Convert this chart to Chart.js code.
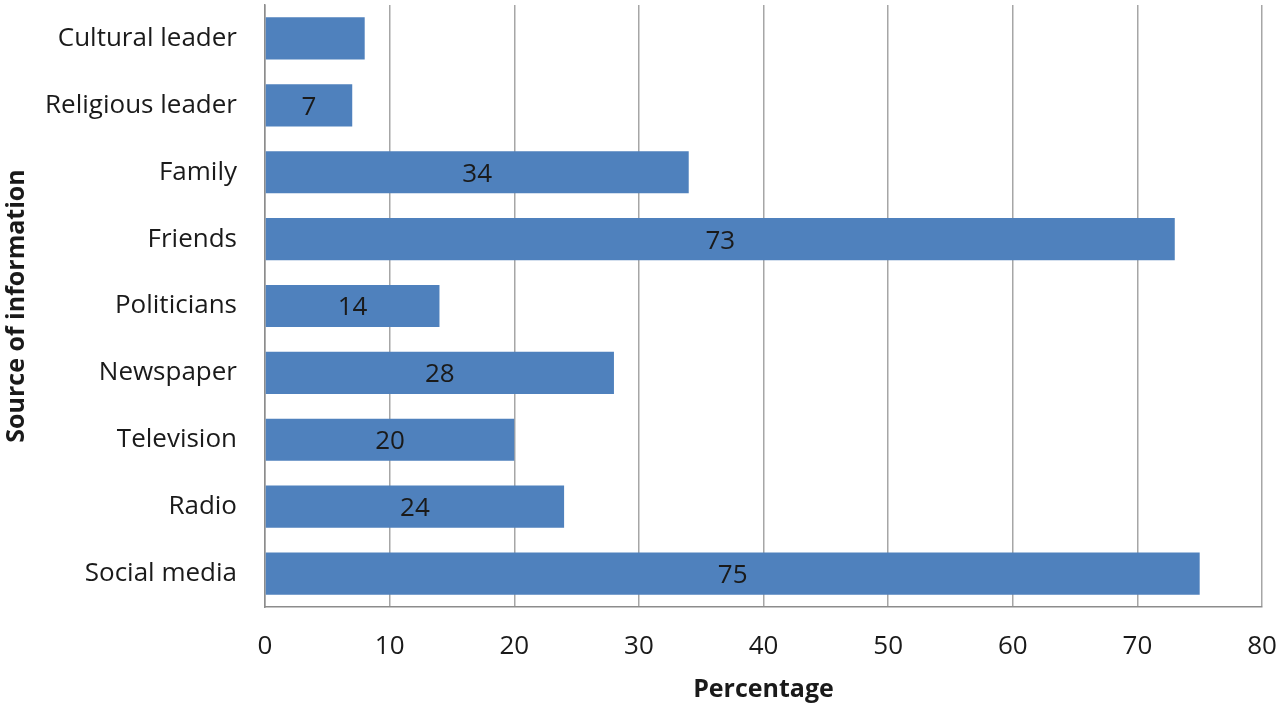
<!DOCTYPE html>
<html>
<head>
<meta charset="utf-8">
<script src="https://cdn.jsdelivr.net/npm/chart.js@4"></script>
<style>
  html, body { margin: 0; padding: 0; background: #fff; }
  #wrap { width: 1280px; height: 708px; }
</style>
</head>
<body>
<div id="wrap"><canvas id="sourceChart" width="1280" height="708"></canvas></div>
<script>
// values
const categories = ['Cultural leader', 'Religious leader', 'Family', 'Friends', 'Politicians',
                    'Newspaper', 'Television', 'Radio', 'Social media'];
const percentages = [8, 7, 34, 73, 14, 28, 20, 24, 75];
// the first bar carries no label in the original
const barLabels = ['', '7', '34', '73', '14', '28', '20', '24', '75'];
const xTicks = [0, 10, 20, 30, 40, 50, 60, 70, 80];

const fontFamily = '"Open Sans", "Liberation Sans", sans-serif';

// draws the value text in the middle of each bar
const centerLabels = {
    id: 'centerLabels',
    afterDatasetsDraw(chart) {
        const ctx = chart.ctx;
        const meta = chart.getDatasetMeta(0);
        ctx.save();
        ctx.font = '26px ' + fontFamily;
        ctx.fillStyle = '#1a1a1a';
        ctx.textAlign = 'center';
        ctx.textBaseline = 'middle';
        meta.data.forEach(function(bar, i) {
            if (!barLabels[i]) return;
            ctx.fillText(barLabels[i], (bar.base + bar.x) / 2, bar.y + 2);
        });
        ctx.restore();
    }
};

var ctx = document.getElementById('sourceChart').getContext('2d');
var sourceChart = new Chart(ctx, {
    type: 'bar',
    data: {
        labels: categories,
        datasets: [{
            data: percentages,
            backgroundColor: '#4F81BD',
            borderWidth: 0,
            categoryPercentage: 1.0,
            barPercentage: 0.63
        }]
    },
    options: {
        indexAxis: 'y',
        responsive: false,
        animation: false,
        layout: { padding: { top: 5, right: 18, bottom: 0, left: 0 } },
        plugins: {
            legend: { display: false },
            tooltip: { enabled: false }
        },
        scales: {
            x: {
                min: 0,
                max: 80,
                afterBuildTicks: function(axis) {
                    axis.ticks = xTicks.map(v => ({ value: v }));
                },
                afterFit: function(axis) {
                    axis.height = 101;
                    axis.paddingLeft = 0;
                    axis.paddingRight = 0;
                },
                grid: { color: '#a6a6a6', lineWidth: 1.5, drawTicks: false },
                border: { color: '#8c8c8c', width: 1.5 },
                ticks: {
                    padding: 24,
                    color: '#1a1a1a',
                    font: { family: fontFamily, size: 26 }
                },
                title: {
                    display: true,
                    text: 'Percentage',
                    color: '#1a1a1a',
                    font: { family: fontFamily, size: 25, weight: 'bold' },
                    padding: { top: 0, bottom: 3 }
                }
            },
            y: {
                afterFit: function(axis) {
                    axis.width = 265;
                    axis.paddingTop = 0;
                    axis.paddingBottom = 0;
                },
                grid: { display: false, drawTicks: false },
                border: { color: '#8c8c8c', width: 1.5 },
                ticks: {
                    padding: 28,
                    color: '#1a1a1a',
                    font: { family: fontFamily, size: 26 }
                },
                title: {
                    display: true,
                    text: 'Source of information',
                    color: '#1a1a1a',
                    font: { family: fontFamily, size: 25, weight: 'bold' },
                    padding: { top: 2, bottom: 0 }
                }
            }
        }
    },
    plugins: [centerLabels]
});
</script>
</body>
</html>
